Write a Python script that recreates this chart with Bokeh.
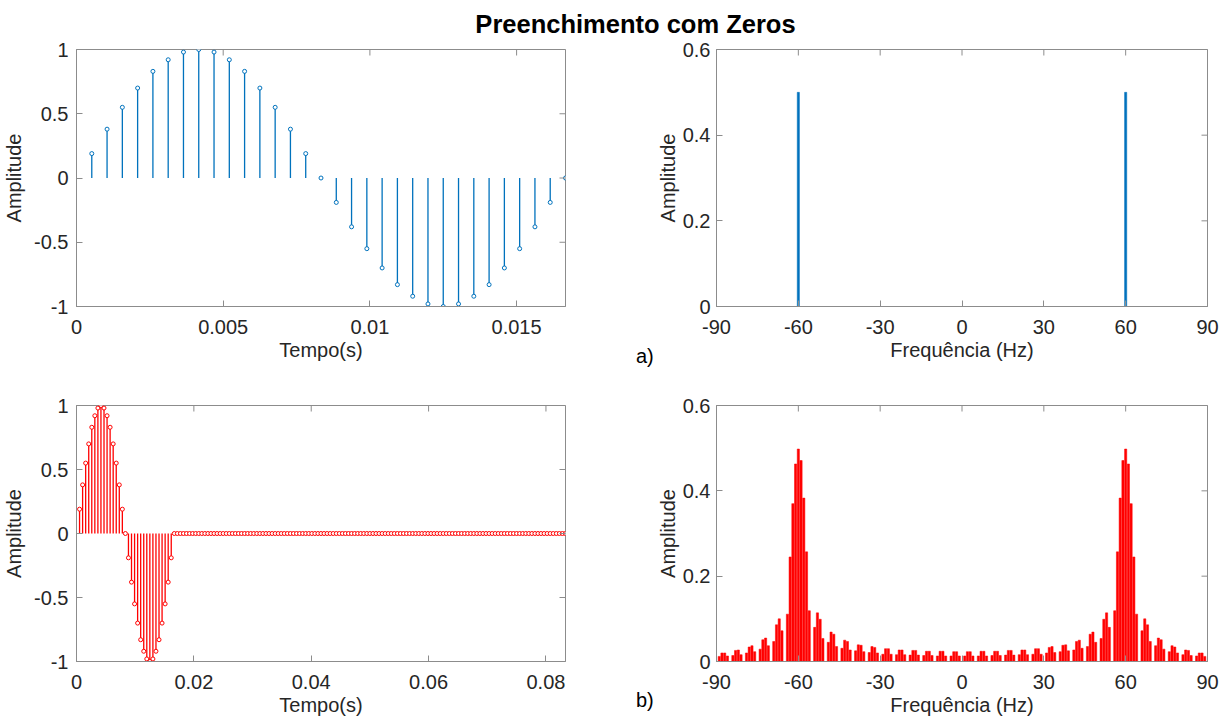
import math

from bokeh.plotting import figure
from bokeh.models import ColumnDataSource, FixedTicker, Label, Range1d, Div
from bokeh.layouts import column, row
from bokeh.embed import file_html
from bokeh.resources import INLINE

# ---------------- data ----------------
fs = 1920  # sampling rate (Hz)

# one period of the 60 Hz sine, 32 samples
signal = [0.19, 0.38, 0.55, 0.70, 0.83, 0.92, 0.98, 1.0, 0.98, 0.92, 0.83, 0.70, 0.55, 0.38, 0.19, 0.0,
          -0.19, -0.38, -0.55, -0.70, -0.83, -0.92, -0.98, -1.0, -0.98, -0.92, -0.83, -0.70, -0.55, -0.38, -0.19, 0.0]
# the same samples followed by 128 zeros
padding = [0.0] * 128
padded_signal = signal + padding

# spectrum of the original signal
line_freqs = [-60, 60]
line_amps = [0.5, 0.5]

# spectrum of the zero padded signal, 1 Hz bins from -90 to 90 Hz
spec_freqs = list(range(-90, 91))
spec_amps = [
    0.0, 0.012, 0.02, 0.02, 0.013, 0.0, 0.014, 0.026, 0.027, 0.016,
    0.0, 0.02, 0.034, 0.037, 0.023, 0.0, 0.029, 0.051, 0.055, 0.037,
    0.0, 0.047, 0.086, 0.1, 0.072, 0.0, 0.111, 0.245, 0.37, 0.463,
    0.498, 0.471, 0.383, 0.257, 0.119, 0.0, 0.08, 0.114, 0.099, 0.054,
    0.0, 0.045, 0.069, 0.064, 0.035, 0.0, 0.031, 0.05, 0.047, 0.027,
    0.0, 0.025, 0.039, 0.038, 0.023, 0.0, 0.021, 0.035, 0.033, 0.02,
    0.0, 0.017, 0.03, 0.03, 0.017, 0.0, 0.016, 0.027, 0.027, 0.016,
    0.0, 0.015, 0.026, 0.026, 0.015, 0.0, 0.014, 0.024, 0.024, 0.014,
    0.0, 0.013, 0.024, 0.024, 0.013, 0.0, 0.013, 0.023, 0.023, 0.013,
    0.0,
    0.013, 0.023, 0.023, 0.013, 0.0, 0.013, 0.024, 0.024, 0.013, 0.0,
    0.014, 0.024, 0.024, 0.014, 0.0, 0.015, 0.026, 0.026, 0.015, 0.0,
    0.016, 0.027, 0.027, 0.016, 0.0, 0.017, 0.03, 0.03, 0.017, 0.0,
    0.02, 0.033, 0.035, 0.021, 0.0, 0.023, 0.038, 0.039, 0.025, 0.0,
    0.027, 0.047, 0.05, 0.031, 0.0, 0.035, 0.064, 0.069, 0.045, 0.0,
    0.054, 0.099, 0.114, 0.08, 0.0, 0.119, 0.257, 0.383, 0.471, 0.498,
    0.463, 0.37, 0.245, 0.111, 0.0, 0.072, 0.1, 0.086, 0.047, 0.0,
    0.037, 0.055, 0.051, 0.029, 0.0, 0.023, 0.037, 0.034, 0.02, 0.0,
    0.016, 0.027, 0.026, 0.014, 0.0, 0.013, 0.02, 0.02, 0.012, 0.0,
]

time_ticks = [0, 0.005, 0.01, 0.015]
time_tick_labels = ["0", "0.005", "0.01", "0.015"]
padded_time_ticks = [0, 0.02, 0.04, 0.06, 0.08]
padded_time_tick_labels = ["0", "0.02", "0.04", "0.06", "0.08"]
amp_ticks = [-1, -0.5, 0, 0.5, 1]
amp_tick_labels = ["-1", "-0.5", "0", "0.5", "1"]
freq_ticks = [-90, -60, -30, 0, 30, 60, 90]
freq_tick_labels = ["-90", "-60", "-30", "0", "30", "60", "90"]
mag_ticks = [0, 0.2, 0.4, 0.6]
mag_tick_labels = ["0", "0.2", "0.4", "0.6"]

# ---------------- styling ----------------
FONT = "Liberation Sans"
BOX = "#8c8c8c"
TXT = "#262626"
BLUE = "#0072BD"
RED = "#FF0000"
TICK_SIZE = "20px"
LABEL_SIZE = "20px"


def new_fig(width, height, borders, xr, yr):
    left, right, top, bottom = borders
    p = figure(width=width, height=height, x_range=xr, y_range=yr,
               toolbar_location=None, output_backend="svg",
               min_border_left=left, min_border_right=right,
               min_border_top=top, min_border_bottom=bottom)
    p.grid.visible = False
    p.outline_line_color = BOX
    p.background_fill_color = "white"
    p.border_fill_color = "white"
    return p


def axes_style(p, xticks, xlabels, yticks, ylabels, xtitle, ytitle, ytick_gap, ylabel_gap):
    xo = dict(zip(xticks, xlabels))
    yo = dict(zip(yticks, ylabels))
    for ax, ticks, over, title in ((p.xaxis[0], xticks, xo, xtitle), (p.yaxis[0], yticks, yo, ytitle)):
        ax.ticker = FixedTicker(ticks=ticks)
        ax.major_label_overrides = over
        ax.axis_label = title
        ax.axis_label_text_font = FONT
        ax.axis_label_text_font_size = LABEL_SIZE
        ax.axis_label_text_font_style = "normal"
        ax.axis_label_text_color = TXT
        ax.major_label_text_font = FONT
        ax.major_label_text_font_size = TICK_SIZE
        ax.major_label_text_color = TXT
        ax.axis_line_color = BOX
        ax.major_tick_line_color = BOX
        ax.major_tick_in = 6
        ax.major_tick_out = 0
        ax.minor_tick_line_color = None
    p.xaxis[0].major_label_standoff = 13
    p.xaxis[0].axis_label_standoff = 2
    p.yaxis[0].major_label_standoff = ytick_gap
    p.yaxis[0].axis_label_standoff = ylabel_gap
    # mirrored inward ticks on the top and right edges of the box (half of each dash is clipped away)
    y_top = p.y_range.end
    x_right = p.x_range.end
    p.scatter(x=xticks, y=[y_top] * len(xticks), marker="dash", angle=math.pi / 2, size=12,
              line_color=BOX, line_width=1)
    p.scatter(x=[x_right] * len(yticks), y=yticks, marker="dash", size=12,
              line_color=BOX, line_width=1)


def stem(p, t, v, color):
    src = ColumnDataSource(dict(t=t, v=v, z=[0.0] * len(t)))
    p.segment(x0="t", y0="z", x1="t", y1="v", source=src, line_color=color, line_width=1.3)
    p.scatter("t", "v", source=src, marker="circle", size=4, line_color=color,
              fill_color="white", line_width=1)


def tag(width, height, text, top):
    """Narrow strip holding a panel tag such as 'a)'."""
    html = ('<div style="position:relative; left:6px; top:%dpx; font-family:\'Liberation Sans\';'
            ' font-size:20px; line-height:20px; color:black; white-space:nowrap;">%s</div>' % (top, text))
    return Div(text=html, width=width, height=height, margin=0)


# ---------------- layout geometry ----------------
LEFT_W, TAG_W, RIGHT_W = 630, 23, 569
ROW1_H, ROW2_H = 330, 349

# top left: original signal
t1 = [(i + 1) / fs for i in range(len(signal))]
p1 = new_fig(LEFT_W, ROW1_H, (72, 65, 9, 64), Range1d(0, len(signal) / fs), Range1d(-1, 1))
stem(p1, t1, signal, BLUE)
axes_style(p1, time_ticks, time_tick_labels, amp_ticks, amp_tick_labels, "Tempo(s)", "Amplitude", 8, 6)

# top right: spectrum of the original signal
p2 = new_fig(RIGHT_W, ROW1_H, (63, 15, 9, 64), Range1d(-90, 90), Range1d(0, 0.6))
p2.vbar(x=line_freqs, top=line_amps, width=0.8, bottom=0, fill_color=BLUE, line_color=BLUE,
        line_width=0.5)
axes_style(p2, freq_ticks, freq_tick_labels, mag_ticks, mag_tick_labels, "Frequência (Hz)", "Amplitude", 6, 1)

# bottom left: zero padded signal
t3 = [(i + 1) / fs for i in range(len(padded_signal))]
p3 = new_fig(LEFT_W, ROW2_H, (72, 65, 35, 58), Range1d(0, len(padded_signal) / fs), Range1d(-1, 1))
stem(p3, t3, padded_signal, RED)
axes_style(p3, padded_time_ticks, padded_time_tick_labels, amp_ticks, amp_tick_labels, "Tempo(s)", "Amplitude", 8, 6)

# bottom right: spectrum of the zero padded signal
p4 = new_fig(RIGHT_W, ROW2_H, (63, 15, 35, 58), Range1d(-90, 90), Range1d(0, 0.6))
p4.vbar(x=spec_freqs, top=spec_amps, width=0.8, bottom=0, fill_color=RED, line_color=RED,
        line_width=0.5)
axes_style(p4, freq_ticks, freq_tick_labels, mag_ticks, mag_tick_labels, "Frequência (Hz)", "Amplitude", 6, 1)

# overall title
pt = figure(width=1222, height=40, x_range=Range1d(0, 1), y_range=Range1d(0, 1),
            x_axis_type=None, y_axis_type=None,
            toolbar_location=None, output_backend="svg",
            min_border_left=0, min_border_right=0, min_border_top=0, min_border_bottom=0)
pt.grid.visible = False
pt.outline_line_color = None
pt.add_layout(Label(x=635, y=17, x_units="screen", y_units="screen",
                    text="Preenchimento com Zeros", text_font=FONT, text_font_size="25.5px",
                    text_font_style="bold", text_color="black", text_align="center",
                    text_baseline="middle"))

layout = column(
    pt,
    row(p1, tag(TAG_W, ROW1_H, "a)", 306), p2),
    row(p3, tag(TAG_W, ROW2_H, "b)", 320), p4),
)

with open("out.html", "w") as f:
    f.write(file_html(layout, INLINE))
